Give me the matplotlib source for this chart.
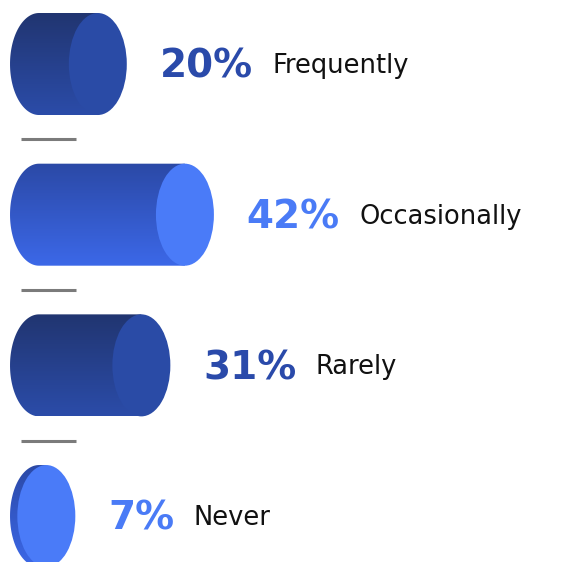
import numpy as np
import matplotlib
matplotlib.use('Agg')
import matplotlib.pyplot as plt
from matplotlib.patches import Ellipse, Polygon
from matplotlib.colors import LinearSegmentedColormap

#dados do grafico
categorias = ['Frequently', 'Occasionally', 'Rarely', 'Never']
valores = [20, 42, 31, 7]
rotulos = ['20%', '42%', '31%', '7%']

#tom de cada cilindro
tons = ['escuro', 'claro', 'escuro', 'claro']
cores = {
  'escuro': {'topo': '#213570', 'base': '#2b4ca9', 'tampa': '#2a4ba6', 'texto': '#2a4aaa'},
  'claro': {'topo': '#2b49a6', 'base': '#3c68e8', 'tampa': '#4a7bf8', 'texto': '#4a7bf6'},
}

inicio = 5.15       #centro da tampa esquerda (unidades de %)
meia_largura = 7.32 #meio eixo horizontal da elipse
altura = 0.677      #altura do cilindro (unidades de linha)

fig = plt.figure(figsize=(5.68, 5.62), dpi=100)
ax = fig.add_axes([0, 0, 1, 1])
ax.axis('off')

#desenha um cilindro deitado com gradiente no corpo
def desenhar_cilindro(ax, y, valor, tom):
  c = cores[tom]
  t = np.linspace(np.pi / 2, 3 * np.pi / 2, 80)
  xs = inicio + meia_largura * np.cos(t)
  ys = y + altura / 2 * np.sin(t)
  pts = np.column_stack([xs, ys])
  pts = np.vstack([pts, [[valor, y - altura / 2], [valor, y + altura / 2]]])
  corpo = Polygon(pts, closed=True, facecolor='none', edgecolor='none')
  ax.add_patch(corpo)

  cmap = LinearSegmentedColormap.from_list('g', [c['topo'], c['base']], N=512)
  grad = np.repeat(np.linspace(0, 1, 400).reshape(-1, 1), 4, axis=1)
  img = ax.imshow(grad, cmap=cmap, aspect='auto', origin='upper',
                  extent=(inicio - meia_largura, valor + 0.5, y + altura / 2, y - altura / 2),
                  interpolation='nearest', zorder=2)
  img.set_clip_path(corpo)

  tampa = Ellipse((valor, y), 2 * meia_largura, altura, facecolor=c['tampa'],
                  edgecolor='none', zorder=3)
  ax.add_patch(tampa)

for i in range(len(valores)):
  desenhar_cilindro(ax, i, valores[i], tons[i])

  pct = ax.annotate(rotulos[i], xy=(valores[i] + meia_largura, i), xytext=(23.5, -10),
                    textcoords='offset points', ha='left', va='baseline',
                    fontsize=28, fontweight='bold', color=cores[tons[i]]['texto'])
  ax.annotate(categorias[i], xy=(1, i), xycoords=(pct, 'data'), xytext=(14, -6.5),
              textcoords='offset points', ha='left', va='baseline',
              fontsize=18.5, color='#111111')

#linhas cinzas entre os grupos
for i in range(len(valores) - 1):
  ax.plot([0.61, 14.42], [i + 0.5, i + 0.5], color='#7b7b7b', lw=2.2, solid_capstyle='butt')

ax.set_xlim(-4.70, 138.74)
ax.set_ylim(3.305, -0.4248)

plt.savefig('out.png', dpi=100)
